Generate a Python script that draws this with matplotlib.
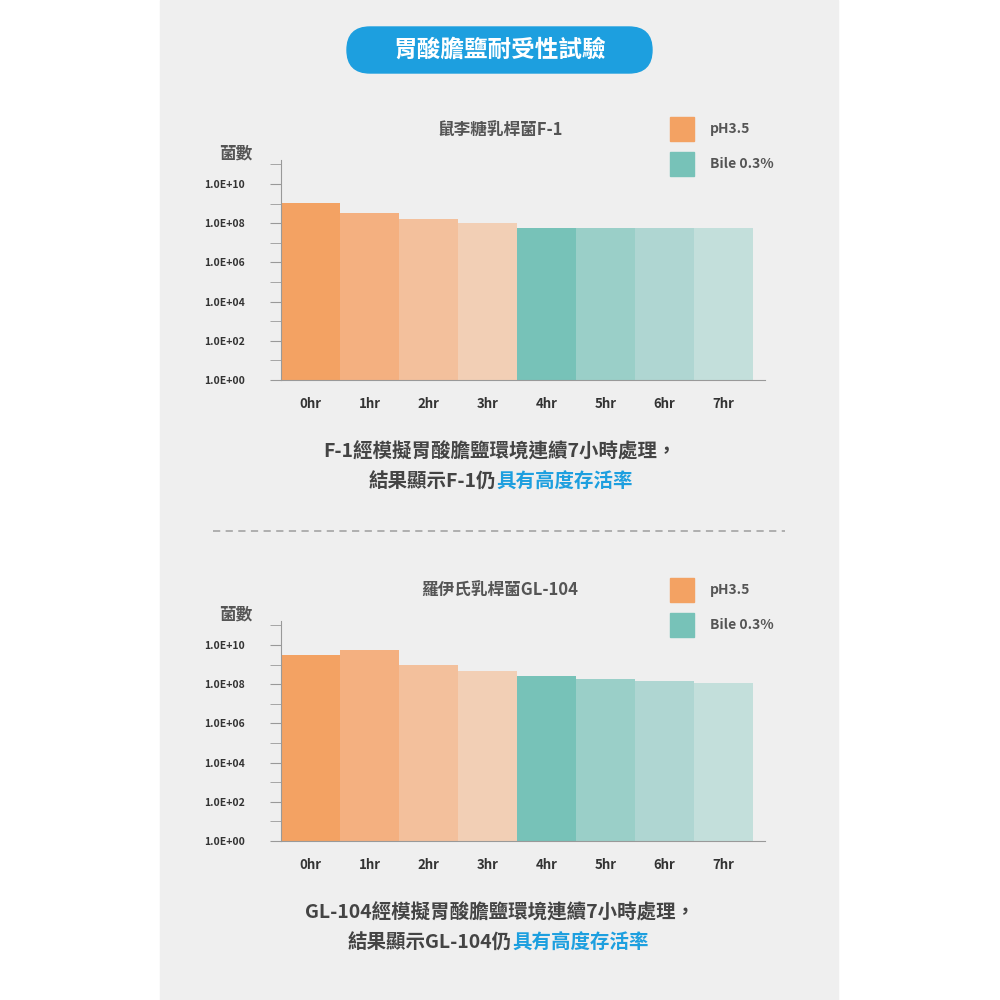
import numpy as np
import matplotlib.pyplot as plt
from matplotlib.patches import FancyBboxPatch, Rectangle

plt.rcParams['font.family'] = ['Noto Sans CJK TC', 'DejaVu Sans']

hours = ['0hr', '1hr', '2hr', '3hr', '4hr', '5hr', '6hr', '7hr']
f1_counts = [1.1e9, 3.3e8, 1.6e8, 1.0e8, 5.7e7, 5.7e7, 5.7e7, 5.7e7]
gl104_counts = [3.1e9, 5.5e9, 9.4e8, 4.6e8, 2.6e8, 1.8e8, 1.4e8, 1.1e8]
bar_colors = ['#f3a263', '#f4b080', '#f3c09c', '#f2cfb5',
              '#77c2b8', '#9acfc8', '#afd6d2', '#c3dfdb']
ytick_labels = ['1.0E+00', '1.0E+02', '1.0E+04', '1.0E+06', '1.0E+08', '1.0E+10']

GRAY = '#555555'
BLUE = '#1d9fdf'

fig = plt.figure(figsize=(10, 10), dpi=100)
fig.patch.set_facecolor('white')
bg = fig.add_axes([0, 0, 1, 1])
bg.set_xlim(0, 1000)
bg.set_ylim(1000, 0)
bg.axis('off')
bg.add_patch(Rectangle((160, 0), 678, 1000, color='#efefef', zorder=0))
bg.add_patch(FancyBboxPatch((347, 27), 305, 46, boxstyle='round,pad=0,rounding_size=23',
                            color=BLUE, zorder=1))
bg.text(500, 50, '胃酸膽鹽耐受性試驗', color='white', fontsize=17, fontweight='bold',
        ha='center', va='center')
bg.plot([213, 785], [531, 531], color='#aaaaaa', lw=1.3, ls=(0, (4, 3)))


def panel(counts, title, bottom, caption1, caption2a, caption2b, split):
    top = bottom - 220
    ax = fig.add_axes([281 / 1000, 1 - bottom / 1000, 484 / 1000, 220 / 1000])
    ax.set_facecolor('none')
    ax.bar(np.arange(len(hours)) + 0.5, counts, width=1.0, color=bar_colors)
    ax.set_yscale('log')
    ax.set_ylim(1, 10 ** (220 / 19.6))
    ax.set_xlim(0, 8.2)
    ax.set_yticks([10.0 ** e for e in range(0, 11, 2)])
    ax.set_yticks([10.0 ** e for e in range(1, 12, 2)], minor=True)
    ax.set_yticklabels(ytick_labels)
    ax.set_xticks(np.arange(len(hours)) + 0.5)
    ax.set_xticklabels(hours)
    for s in ['top', 'right']:
        ax.spines[s].set_visible(False)
    for s in ['left', 'bottom']:
        ax.spines[s].set_color('#999999')
    ax.tick_params(axis='y', which='both', length=8, color='#999999', labelsize=7.5,
                   labelcolor='#333333', pad=18)
    ax.tick_params(axis='x', length=0, labelsize=9.5, labelcolor='#333333', pad=12)
    for t in ax.get_xticklabels() + ax.get_yticklabels():
        t.set_fontweight('bold')
    ax.yaxis.set_tick_params(which='minor', labelleft=False)

    bg.text(500, top - 30, title, color=GRAY, fontsize=12, fontweight='bold',
            ha='center', va='center')
    bg.text(236, top - 7, '菌數', color=GRAY, fontsize=12, fontweight='bold',
            ha='center', va='center')
    for i, (lab, col) in enumerate([('pH3.5', bar_colors[0]), ('Bile 0.3%', bar_colors[4])]):
        y = top - 43 + i * 35
        bg.add_patch(Rectangle((670, y), 24, 24, color=col))
        bg.text(710, y + 12, lab, color=GRAY, fontsize=10, fontweight='bold', va='center')
    bg.text(500, bottom + 72, caption1, color='#444444', fontsize=14, fontweight='bold',
            ha='center', va='center')
    bg.text(split, bottom + 102, caption2a, color='#444444', fontsize=14,
            fontweight='bold', ha='right', va='center')
    bg.text(split, bottom + 102, caption2b, color=BLUE, fontsize=14,
            fontweight='bold', ha='left', va='center')


panel(f1_counts, '鼠李糖乳桿菌F-1', 380, 'F-1經模擬胃酸膽鹽環境連續7小時處理，',
      '結果顯示F-1仍', '具有高度存活率', 496)
panel(gl104_counts, '羅伊氏乳桿菌GL-104', 841, 'GL-104經模擬胃酸膽鹽環境連續7小時處理，',
      '結果顯示GL-104仍', '具有高度存活率', 512)

fig.savefig('out.png')
